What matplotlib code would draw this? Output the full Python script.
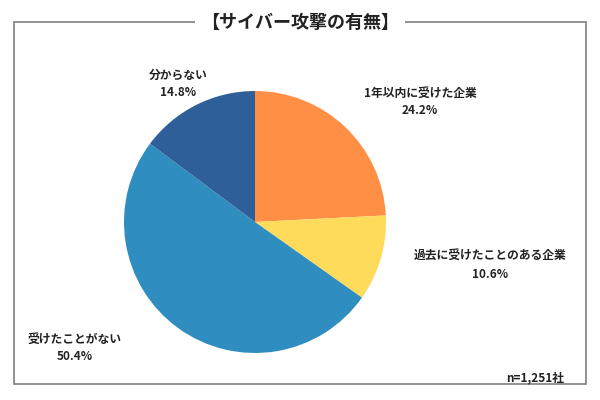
import matplotlib
matplotlib.use("Agg")
import matplotlib.pyplot as plt
from matplotlib.patches import Rectangle

plt.rcParams["font.family"] = "Noto Sans CJK JP"

categories = ["1年以内に受けた企業", "過去に受けたことのある企業", "受けたことがない", "分からない"]
values = [24.2, 10.6, 50.4, 14.8]
colors = ["#FF8F45", "#FFDB5C", "#2F8DBF", "#2E5F98"]
label_pos = [(420, 102), (490, 265), (75, 348), (178, 84)]

fig = plt.figure(figsize=(6, 4), dpi=100)
fig.patch.set_facecolor("white")

fig.add_artist(Rectangle((14/600, 1-384/400), 572/600, 362/400, transform=fig.transFigure,
                         fill=False, edgecolor="#7f7f7f", linewidth=1.2))
fig.text(0.5, 1-22/400, "【サイバー攻撃の有無】", ha="center", va="center", fontsize=13,
         fontweight="bold", color="#222222",
         bbox=dict(facecolor="white", edgecolor="none", pad=4))

ax = fig.add_axes([124/600, 1-353/400, 262/600, 262/400])
ax.pie(values, colors=colors, startangle=90, counterclock=False, radius=1,
       wedgeprops=dict(edgecolor="none"), frame=False)
ax.set_xlim(-1, 1)
ax.set_ylim(-1, 1)
ax.set_aspect("equal")
ax.axis("off")

for cat, v, (x, y) in zip(categories, values, label_pos):
    fig.text(x/600, 1-y/400, f"{cat}\n{v:.1f}%", ha="center", va="center",
             fontsize=8.5, fontweight="bold", color="#222222", linespacing=1.5)

fig.text(535/600, 1-378/400, "n=1,251社", ha="center", va="center", fontsize=8.5,
         fontweight="bold", color="#222222")

fig.savefig("out.png", dpi=100)
